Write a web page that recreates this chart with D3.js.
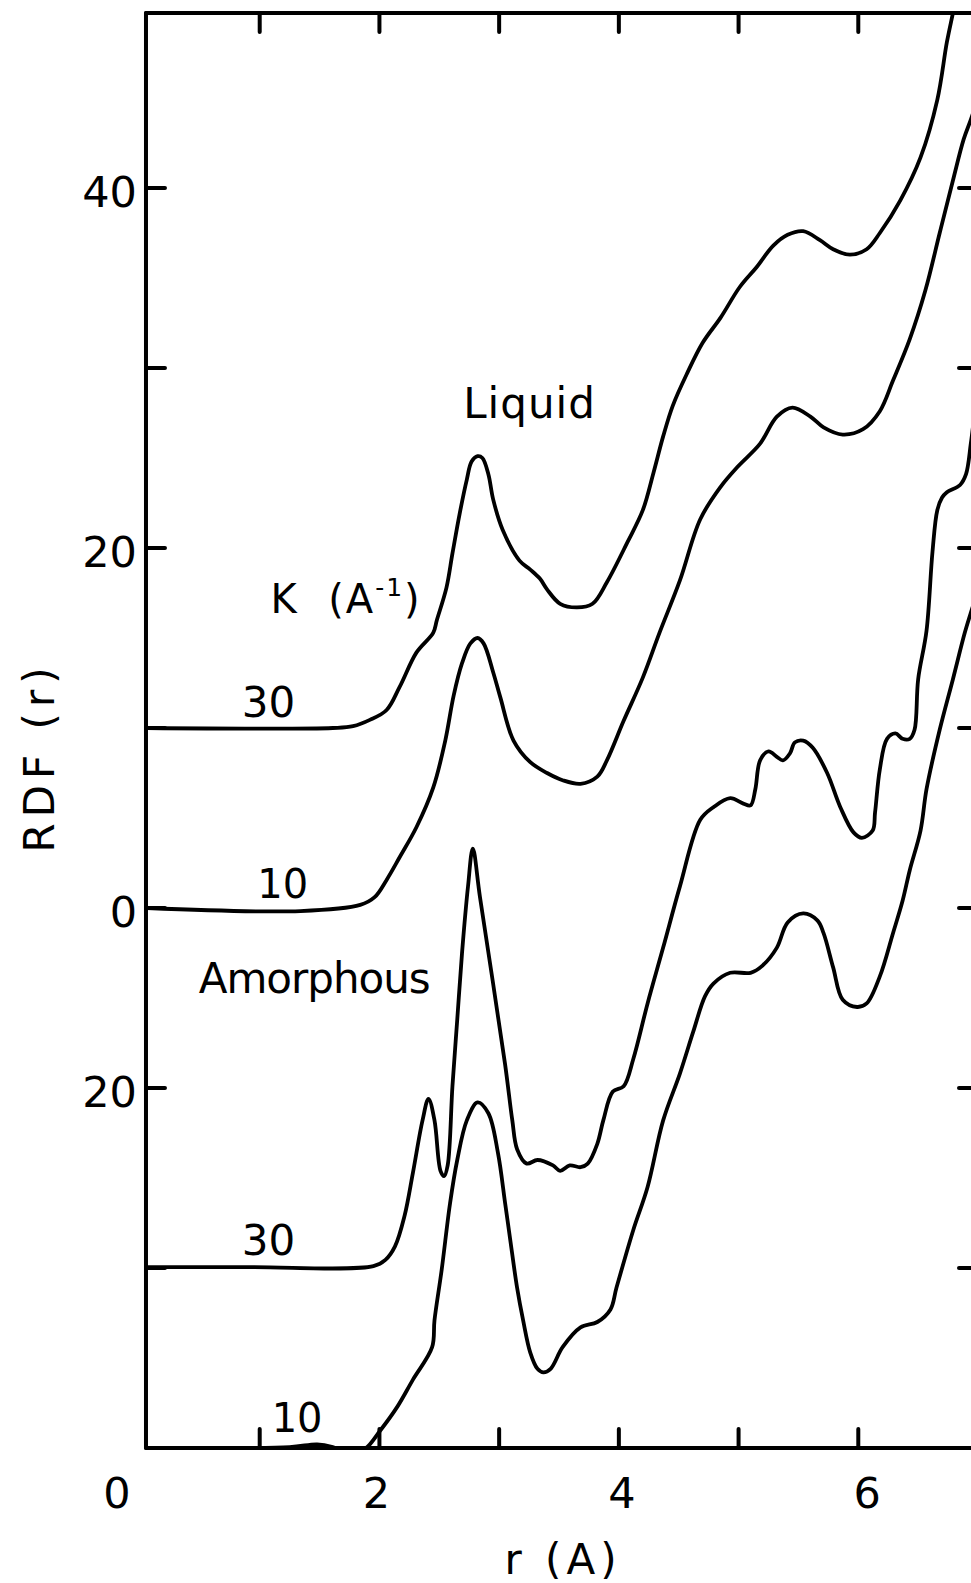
<!DOCTYPE html>
<html>
<head>
<meta charset="utf-8">
<script src="https://cdn.jsdelivr.net/npm/d3@7/dist/d3.min.js"></script>
<style>
  html, body { margin: 0; padding: 0; background: #fff; }
  svg { display: block; }
  .curve { fill: none; stroke: #000; stroke-width: 3.8; stroke-linejoin: round; stroke-linecap: round; }
  .axis line { stroke: #000; stroke-width: 4; stroke-linecap: round; }
  text { font-family: 'DejaVu Sans', sans-serif; fill: #000; white-space: pre; }
</style>
</head>
<body>
<div class="container"></div>
<script>
/* globals d3 */

// RDF(r) curves, [r (A), RDF] (before the vertical offsets)
const liquid30 = [
  [0.06, 0], [1.61, 0], [1.78, 0.1], [1.92, 0.45], [2.06, 1.0], [2.17, 2.3], [2.31, 4.2],
  [2.45, 5.3], [2.48, 6.0], [2.56, 7.8], [2.61, 9.7], [2.67, 11.9], [2.73, 13.8], [2.77, 14.8],
  [2.82, 15.1], [2.86, 15.0], [2.91, 14.1], [2.95, 12.7], [3.03, 11.0], [3.17, 9.3], [3.26, 8.8],
  [3.34, 8.3], [3.40, 7.7], [3.51, 6.9], [3.65, 6.7], [3.78, 6.9], [3.90, 8.1], [4.07, 10.3],
  [4.20, 12.1], [4.29, 14.2], [4.37, 16.2], [4.45, 17.9], [4.57, 19.7], [4.70, 21.4],
  [4.85, 22.8], [5.01, 24.5], [5.15, 25.6], [5.29, 26.8], [5.41, 27.4], [5.54, 27.6], [5.68, 27.1],
  [5.79, 26.6], [5.93, 26.3], [6.07, 26.6], [6.18, 27.5], [6.35, 29.3], [6.52, 31.7], [6.66, 34.9],
  [6.74, 38.1], [6.79, 39.7], [6.83, 41.0]
]

const liquid10 = [
  [0.06, 0], [1.34, -0.17], [1.84, 0.17], [1.96, 0.6], [2.06, 1.56], [2.17, 2.83], [2.31, 4.5],
  [2.45, 6.7], [2.55, 9.3], [2.62, 11.8], [2.69, 13.6], [2.76, 14.7], [2.82, 15.0], [2.87, 14.7],
  [2.95, 13.1], [3.01, 11.7], [3.12, 9.3], [3.26, 8.1], [3.40, 7.5], [3.53, 7.1], [3.68, 6.9],
  [3.82, 7.3], [3.90, 8.2], [4.04, 10.4], [4.20, 12.8], [4.34, 15.3], [4.51, 18.2], [4.68, 21.6],
  [4.85, 23.4], [4.99, 24.5], [5.18, 25.8], [5.32, 27.3], [5.45, 27.8], [5.60, 27.3], [5.71, 26.7],
  [5.87, 26.3], [6.04, 26.6], [6.18, 27.6], [6.29, 29.3], [6.43, 31.6], [6.56, 34.3], [6.68, 37.5],
  [6.79, 40.4], [6.88, 42.7], [6.94, 43.8], [7.0, 45.0]
]

const amorphous30 = [
  [0.06, 0.05], [0.92, 0.05], [1.95, 0.1], [2.05, 0.45], [2.13, 1.2], [2.21, 2.9], [2.28, 5.3],
  [2.36, 8.2], [2.41, 9.4], [2.46, 8.2], [2.51, 5.4], [2.54, 5.1], [2.57, 5.7], [2.61, 10.1],
  [2.65, 13.8], [2.69, 17.5], [2.74, 21.2], [2.78, 23.3], [2.84, 20.6], [3.05, 11.3],
  [3.11, 8.2], [3.15, 6.6], [3.23, 5.8], [3.32, 6.0], [3.45, 5.7], [3.51, 5.4],
  [3.59, 5.7], [3.68, 5.6], [3.74, 5.8], [3.82, 6.9], [3.87, 8.2], [3.95, 9.8], [4.04, 10.1],
  [4.12, 11.6], [4.24, 14.7], [4.37, 17.8], [4.51, 21.2], [4.68, 24.9], [4.79, 25.6], [4.93, 26.1],
  [5.04, 25.8], [5.10, 25.7], [5.14, 26.6], [5.18, 28.2], [5.25, 28.7], [5.32, 28.4], [5.37, 28.2],
  [5.43, 28.6], [5.47, 29.2], [5.54, 29.3], [5.62, 28.9], [5.74, 27.5], [5.85, 25.6], [5.96, 24.2],
  [6.03, 23.9], [6.12, 24.3], [6.14, 25.3], [6.18, 27.7], [6.24, 29.4], [6.31, 29.7], [6.37, 29.4],
  [6.43, 29.4], [6.47, 29.9], [6.50, 32.7], [6.57, 35.4], [6.62, 39.8], [6.66, 42.1], [6.70, 42.8],
  [6.74, 43.1], [6.85, 43.5], [6.90, 44.1], [6.94, 45.8], [6.98, 48.0]
]

const amorphous10 = [
  [0.06, 0], [1.25, 0.05], [1.48, 0.2], [1.61, 0.05], [1.75, -0.3], [1.88, -0.05], [2.01, 1.0],
  [2.15, 2.3], [2.28, 3.8], [2.44, 5.6], [2.46, 7.1], [2.52, 9.9], [2.59, 13.6], [2.65, 16.0],
  [2.73, 18.2], [2.82, 19.2], [2.91, 18.6], [2.99, 16.4], [3.05, 13.6], [3.09, 11.7], [3.15, 8.9],
  [3.20, 7.1], [3.26, 5.3], [3.32, 4.4], [3.37, 4.2], [3.43, 4.4], [3.53, 5.6], [3.68, 6.7],
  [3.82, 7.0], [3.93, 7.7], [3.98, 8.9], [4.12, 12.1], [4.24, 14.5], [4.37, 18.2], [4.51, 20.8],
  [4.62, 23.1], [4.72, 25.1], [4.79, 25.8], [4.93, 26.4], [5.10, 26.4], [5.20, 26.8], [5.32, 27.8],
  [5.41, 29.2], [5.54, 29.7], [5.66, 29.3], [5.71, 28.6], [5.79, 26.7], [5.87, 24.9], [5.99, 24.5],
  [6.07, 24.7], [6.18, 26.2], [6.29, 28.6], [6.37, 30.4], [6.43, 32.1], [6.52, 34.3], [6.57, 36.6],
  [6.68, 39.9], [6.79, 42.7], [6.89, 45.3], [6.94, 46.4], [7.0, 47.6]
]

// vertical shift of each curve on the plot, in RDF units
const curveNames = ['liquid30', 'liquid10', 'amorphous30', 'amorphous10']
const curveOffsets = [10, 0, -20, -30]

// axes
const xTickValues = [1, 2, 3, 4, 5, 6]
const xTickLabels = ['0', '2', '4', '6']
const xLabelValues = [0, 2, 4, 6]
const yTickValues = [40, 30, 20, 10, 0, -10, -20]
const yLabelValues = [40, 20, 0, -10]
const yLabelTexts = ['40', '20', '0', '20']

;(function () {
  const width = 971
  const height = 1583

  const curves = { liquid30, liquid10, amorphous30, amorphous10 }

  const xScale = d3.scaleLinear().domain([0, 7]).range([140, 978])
  const yScale = d3.scaleLinear().domain([-30, 40]).range([1448, 188])

  // frame edges in data units
  const rLeft = 0.05
  const rRight = 7
  const vTop = 49.72
  const vBottom = -30

  const svg = d3.select('.container')
                .append('svg')
                .attr('width', width)
                .attr('height', height)

  svg.append('rect')
     .attr('width', width)
     .attr('height', height)
     .attr('fill', '#fff')

  svg.append('clipPath')
     .attr('id', 'plotClip')
     .append('rect')
     .attr('x', xScale(rLeft))
     .attr('y', yScale(vTop))
     .attr('width', xScale(rRight) - xScale(rLeft))
     .attr('height', yScale(vBottom) - yScale(vTop))

  const axis = svg.append('g').attr('class', 'axis')

  // frame
  axis.append('line')
      .attr('x1', xScale(rLeft)).attr('x2', xScale(rLeft))
      .attr('y1', yScale(vTop)).attr('y2', yScale(vBottom))
  axis.append('line')
      .attr('x1', xScale(rLeft)).attr('x2', xScale(rRight))
      .attr('y1', yScale(vTop)).attr('y2', yScale(vTop))
  axis.append('line')
      .attr('x1', xScale(rLeft)).attr('x2', xScale(rRight))
      .attr('y1', yScale(vBottom)).attr('y2', yScale(vBottom))
  axis.append('line')
      .attr('x1', xScale(rRight)).attr('x2', xScale(rRight))
      .attr('y1', yScale(vTop)).attr('y2', yScale(vBottom))

  const tickLen = 19

  // inward ticks, top and bottom
  axis.selectAll('.xTop')
      .data(xTickValues)
      .enter()
      .append('line')
      .attr('x1', function (d) { return xScale(d) })
      .attr('x2', function (d) { return xScale(d) })
      .attr('y1', yScale(vTop))
      .attr('y2', yScale(vTop) + tickLen)

  axis.selectAll('.xBottom')
      .data(xTickValues)
      .enter()
      .append('line')
      .attr('x1', function (d) { return xScale(d) })
      .attr('x2', function (d) { return xScale(d) })
      .attr('y1', yScale(vBottom))
      .attr('y2', yScale(vBottom) - tickLen)

  // inward ticks, left and right
  axis.selectAll('.yLeft')
      .data(yTickValues)
      .enter()
      .append('line')
      .attr('x1', xScale(rLeft))
      .attr('x2', xScale(rLeft) + tickLen)
      .attr('y1', function (d) { return yScale(d) })
      .attr('y2', function (d) { return yScale(d) })

  axis.selectAll('.yRight')
      .data(yTickValues)
      .enter()
      .append('line')
      .attr('x1', xScale(rRight) - tickLen)
      .attr('x2', xScale(rRight))
      .attr('y1', function (d) { return yScale(d) })
      .attr('y2', function (d) { return yScale(d) })

  // tick labels
  svg.selectAll('.yLabel')
     .data(yLabelValues)
     .enter()
     .append('text')
     .attr('class', 'yLabel')
     .attr('x', xScale(rLeft) - 9)
     .attr('y', function (d) { return yScale(d) + 19 })
     .attr('text-anchor', 'end')
     .style('font-size', '43px')
     .text(function (d, i) { return yLabelTexts[i] })

  svg.selectAll('.xLabel')
     .data(xLabelValues)
     .enter()
     .append('text')
     .attr('class', 'xLabel')
     .attr('x', function (d) {
       // hand-lettered: the origin label sits left of the corner, the rest drift right
       return d === 0 ? xScale(rLeft) - 29 : xScale(d) + (d - 4) * 3 + 3
     })
     .attr('y', yScale(vBottom) + 60)
     .attr('text-anchor', 'middle')
     .style('font-size', '43px')
     .text(function (d, i) { return xTickLabels[i] })

  // axis titles
  svg.append('text')
     .attr('x', 563)
     .attr('y', 1574)
     .attr('text-anchor', 'middle')
     .style('font-size', '42px')
     .style('letter-spacing', '5px')
     .text('r (A)')

  svg.append('text')
     .attr('transform', 'translate(54,757) rotate(-90)')
     .attr('text-anchor', 'middle')
     .style('font-size', '42px')
     .style('letter-spacing', '6px')
     .text('RDF (r)')

  // curves
  const valueline = d3.line()
                      .curve(d3.curveCatmullRom.alpha(0.5))
                      .x(function (d) { return xScale(d[0]) })
                      .y(function (d) { return yScale(d[1] + d[2]) })

  svg.append('g')
     .attr('clip-path', 'url(#plotClip)')
     .selectAll('.curve')
     .data(curveNames)
     .enter()
     .append('path')
     .attr('class', function (d) { return 'curve ' + d })
     .attr('d', function (d, i) {
       return valueline(curves[d].map(function (p) {
         return [p[0], p[1], curveOffsets[i]]
       }))
     })

  // annotations, anchored in data coordinates
  const notes = [
    { text: 'Liquid', r: 2.70, v: 27.2, size: 42, spacing: 1 },
    { text: '30', r: 0.85, v: 10.6, size: 42, spacing: 0 },
    { text: '10', r: 0.98, v: 0.56, size: 40, spacing: 0 },
    { text: 'Amorphous', r: 0.49, v: -4.7, size: 42, spacing: -1 },
    { text: '30', r: 0.85, v: -19.3, size: 42, spacing: 0 },
    { text: '10', r: 1.10, v: -29.1, size: 40, spacing: 0 }
  ]

  svg.selectAll('.note')
     .data(notes)
     .enter()
     .append('text')
     .attr('class', 'note')
     .attr('x', function (d) { return xScale(d.r) })
     .attr('y', function (d) { return yScale(d.v) })
     .style('font-size', function (d) { return d.size + 'px' })
     .style('letter-spacing', function (d) { return d.spacing + 'px' })
     .text(function (d) { return d.text })

  const kLabel = svg.append('text')
                    .attr('x', xScale(1.09))
                    .attr('y', yScale(16.4))
                    .style('font-size', '40px')
                    .style('letter-spacing', '2px')
  kLabel.append('tspan').text('K  (A')
  kLabel.append('tspan')
        .attr('dy', -17)
        .style('font-size', '25px')
        .text('-1')
  kLabel.append('tspan')
        .attr('dy', 17)
        .text(')')
}())
</script>
</body>
</html>
